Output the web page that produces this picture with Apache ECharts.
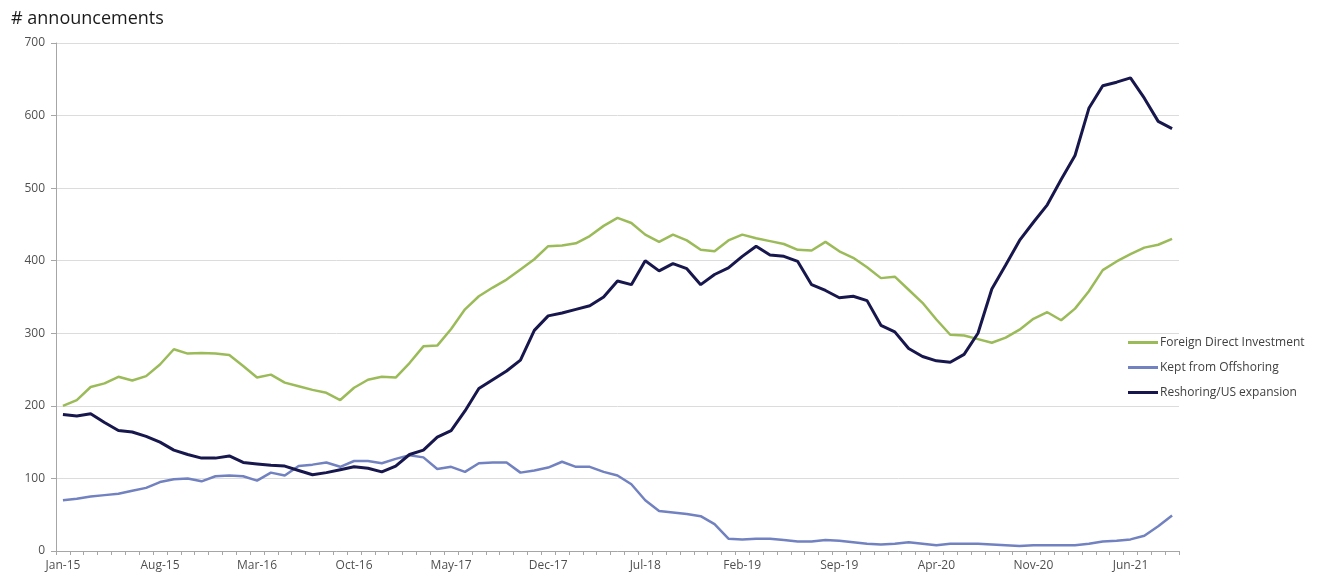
<!DOCTYPE html>
<html>
<head>
<meta charset="utf-8">
<title># announcements</title>
<script src="https://cdn.jsdelivr.net/npm/echarts@6/dist/echarts.min.js"></script>
<style>
  html, body { margin: 0; padding: 0; background: #ffffff; }
  #chart { width: 1319px; height: 577px; }
</style>
</head>
<body>
<div id="chart"></div>
<script>
// Monthly categories, Jan-15 through Sep-21
const months = [
  'Jan-15','Feb-15','Mar-15','Apr-15','May-15','Jun-15','Jul-15','Aug-15','Sep-15','Oct-15','Nov-15','Dec-15',
  'Jan-16','Feb-16','Mar-16','Apr-16','May-16','Jun-16','Jul-16','Aug-16','Sep-16','Oct-16','Nov-16','Dec-16',
  'Jan-17','Feb-17','Mar-17','Apr-17','May-17','Jun-17','Jul-17','Aug-17','Sep-17','Oct-17','Nov-17','Dec-17',
  'Jan-18','Feb-18','Mar-18','Apr-18','May-18','Jun-18','Jul-18','Aug-18','Sep-18','Oct-18','Nov-18','Dec-18',
  'Jan-19','Feb-19','Mar-19','Apr-19','May-19','Jun-19','Jul-19','Aug-19','Sep-19','Oct-19','Nov-19','Dec-19',
  'Jan-20','Feb-20','Mar-20','Apr-20','May-20','Jun-20','Jul-20','Aug-20','Sep-20','Oct-20','Nov-20','Dec-20',
  'Jan-21','Feb-21','Mar-21','Apr-21','May-21','Jun-21','Jul-21','Aug-21','Sep-21'
];

const foreignDirectInvestment = [
  200, 208, 226, 231, 240, 235, 241, 257, 278, 272, 273, 272,
  270, 255, 239, 243, 232, 227, 222, 218, 208, 225, 236, 240,
  239, 259, 282, 283, 306, 333, 351, 363, 374, 388, 402, 420,
  421, 424, 434, 448, 459, 452, 436, 426, 436, 428, 415, 413,
  428, 436, 431, 427, 423, 415, 414, 426, 413, 404, 391, 376,
  378, 360, 342, 319, 298, 297, 292, 287, 294, 305, 320, 329,
  318, 334, 358, 387, 399, 409, 418, 422, 430
];

const keptFromOffshoring = [
  70, 72, 75, 77, 79, 83, 87, 95, 99, 100, 96, 103,
  104, 103, 97, 108, 104, 117, 119, 122, 116, 124, 124, 121,
  127, 132, 129, 113, 116, 109, 121, 122, 122, 108, 111, 115,
  123, 116, 116, 109, 104, 92, 70, 55, 53, 51, 48, 37,
  17, 16, 17, 17, 15, 13, 13, 15, 14, 12, 10, 9,
  10, 12, 10, 8, 10, 10, 10, 9, 8, 7, 8, 8,
  8, 8, 10, 13, 14, 16, 21, 34, 49
];

const reshoringUSExpansion = [
  188, 186, 189, 177, 166, 164, 158, 150, 139, 133, 128, 128,
  131, 122, 120, 118, 117, 111, 105, 108, 112, 116, 114, 109,
  117, 133, 139, 157, 166, 193, 224, 236, 248, 263, 304, 324,
  328, 333, 338, 350, 372, 367, 400, 386, 396, 389, 367, 381,
  390, 406, 420, 408, 406, 399, 367, 359, 349, 351, 345, 311,
  302, 279, 268, 262, 260, 271, 300, 361, 394, 428, 453, 477,
  512, 545, 610, 641, 646, 652, 624, 592, 582
];

const yTicks = { min: 0, max: 700, interval: 100 };

const chart = echarts.init(document.getElementById('chart'), null, { renderer: 'canvas' });

const axisTextColor = '#505050';
const axisLineColor = '#a6a6a6';

chart.setOption({
  backgroundColor: '#ffffff',
  animation: false,
  textStyle: { fontFamily: 'Open Sans' },
  title: {
    text: '# announcements',
    left: 6,
    top: 5,
    textStyle: { fontFamily: 'Open Sans', fontSize: 18, fontWeight: 'normal', color: '#1a1a1a' }
  },
  grid: { left: 56, right: 140, top: 43, bottom: 26, containLabel: false },
  legend: {
    orient: 'vertical',
    left: 1123,
    top: 330,
    itemGap: 10,
    itemWidth: 30,
    itemHeight: 3,
    icon: 'rect',
    textStyle: { fontFamily: 'Open Sans', fontSize: 12, lineHeight: 15, color: '#404040', padding: [0, 0, 0, -3] },
    data: ['Foreign Direct Investment', 'Kept from Offshoring', 'Reshoring/US expansion']
  },
  xAxis: {
    type: 'category',
    data: months,
    boundaryGap: true,
    axisLine: { show: true, lineStyle: { color: axisLineColor, width: 1 } },
    axisTick: { show: true, interval: 0, length: 4, inside: false, lineStyle: { color: axisLineColor } },
    axisLabel: { interval: 6, color: axisTextColor, fontSize: 12, margin: 9, fontFamily: 'Open Sans' },
    splitLine: { show: false }
  },
  yAxis: {
    type: 'value',
    min: yTicks.min,
    max: yTicks.max,
    interval: yTicks.interval,
    axisLine: { show: true, lineStyle: { color: axisLineColor, width: 1 } },
    axisTick: { show: true, length: 5, lineStyle: { color: axisLineColor } },
    axisLabel: { color: axisTextColor, fontSize: 12, margin: 11, fontFamily: 'Open Sans' },
    splitLine: { show: true, lineStyle: { color: '#dcdcdc', width: 1 } }
  },
  series: [
    {
      name: 'Foreign Direct Investment',
      type: 'line',
      data: foreignDirectInvestment,
      symbol: 'none',
      itemStyle: { color: '#9bbb59' },
      lineStyle: { color: '#9bbb59', width: 2.5 },
      z: 2
    },
    {
      name: 'Kept from Offshoring',
      type: 'line',
      data: keptFromOffshoring,
      symbol: 'none',
      itemStyle: { color: '#7282c0' },
      lineStyle: { color: '#7282c0', width: 2.5 },
      z: 3
    },
    {
      name: 'Reshoring/US expansion',
      type: 'line',
      data: reshoringUSExpansion,
      symbol: 'none',
      itemStyle: { color: '#17174d' },
      lineStyle: { color: '#17174d', width: 3 },
      z: 4
    }
  ]
});
</script>
</body>
</html>
